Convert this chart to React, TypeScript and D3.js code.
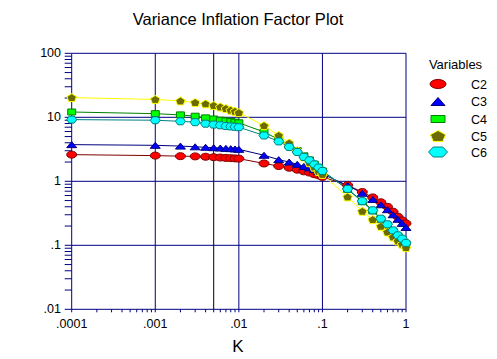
import React from "react";
import * as d3 from "d3";

const kValues = [
  0.0001, 0.001, 0.002, 0.003, 0.004, 0.005, 0.006, 0.007, 0.008, 0.009,
  0.01, 0.02, 0.03, 0.04, 0.05, 0.06, 0.07, 0.08, 0.09,
  0.1, 0.2, 0.3, 0.4, 0.5, 0.6, 0.7, 0.8, 0.9, 1.0,
];
const c2 = [2.61, 2.52, 2.47, 2.45, 2.42, 2.38, 2.35, 2.32, 2.3, 2.28, 2.26, 1.9, 1.73, 1.63, 1.52, 1.43, 1.37, 1.29, 1.24, 1.17, 0.87, 0.68, 0.56, 0.47, 0.4, 0.335, 0.28, 0.245, 0.22];
const c3 = [3.74, 3.65, 3.55, 3.46, 3.4, 3.35, 3.31, 3.27, 3.24, 3.2, 3.16, 2.55, 2.18, 2.0, 1.84, 1.71, 1.62, 1.52, 1.42, 1.3, 0.86, 0.65, 0.52, 0.43, 0.36, 0.3, 0.255, 0.22, 0.19];
const c4 = [12.1, 11.4, 10.9, 10.4, 9.8, 9.4, 9.0, 8.8, 8.6, 8.4, 8.2, 5.9, 4.5, 3.6, 3.0, 2.5, 2.15, 1.85, 1.65, 1.45, 0.75, 0.48, 0.345, 0.255, 0.207, 0.166, 0.139, 0.123, 0.106];
const c5 = [20.3, 19.0, 18.0, 17.0, 16.2, 15.3, 14.5, 13.7, 12.9, 12.4, 11.8, 7.4, 5.2, 3.96, 3.0, 2.4, 1.95, 1.66, 1.42, 1.28, 0.57, 0.34, 0.252, 0.198, 0.161, 0.135, 0.117, 0.104, 0.092];
const c6 = [9.2, 9.0, 8.66, 8.4, 7.95, 7.7, 7.5, 7.3, 7.2, 7.1, 7.0, 5.2, 4.2, 3.44, 2.87, 2.4, 2.13, 1.84, 1.64, 1.45, 0.76, 0.49, 0.352, 0.261, 0.213, 0.171, 0.143, 0.127, 0.109];

const seriesNames = ["C2", "C3", "C4", "C5", "C6"];
const seriesValues = [c2, c3, c4, c5, c6];
const shapes = ["ellipse", "triangle", "square", "pentagon", "hexagon"];
const fills = ["#ff0000", "#0000ff", "#00ff00", "#6b6b00", "#00ffff"];
const strokes = ["#800000", "#000080", "#008000", "#ffff00", "#008080"];
const lineColors = ["#800000", "#000080", "#008000", "#ffff00", "#008080"];

const xTickValues = [0.0001, 0.001, 0.01, 0.1, 1];
const xTickLabels = [".0001", ".001", ".01", ".1", "1"];
const yTickValues = [0.01, 0.1, 1, 10, 100];
const yTickLabels = [".01", ".1", "1", "10", "100"];
const refK = 0.005;

const FONT = "'Liberation Sans', Arial, sans-serif";

function markerPath(shape: string, w: number, h: number): string {
  const hw = w / 2, hh = h / 2;
  if (shape === "triangle") return `M0,${-hh}L${hw},${hh}L${-hw},${hh}Z`;
  if (shape === "square") return `M${-hw},${-hh}H${hw}V${hh}H${-hw}Z`;
  if (shape === "pentagon") {
    const pts = d3.range(5).map((i) => {
      const a = -Math.PI / 2 + (i * 2 * Math.PI) / 5;
      return [Math.cos(a) * hw, Math.sin(a) * hh * 1.1 + hh * 0.1];
    });
    return "M" + pts.map((p) => p.join(",")).join("L") + "Z";
  }
  if (shape === "hexagon") {
    const q = hw * 0.5;
    return `M${-hw},0L${-q},${-hh}L${q},${-hh}L${hw},0L${q},${hh}L${-q},${hh}Z`;
  }
  return "";
}

function Marker({ shape, x, y, w, h, fill, stroke }: any) {
  if (shape === "ellipse")
    return <ellipse cx={x} cy={y} rx={w / 2} ry={h / 2} fill={fill} stroke={stroke} strokeWidth={1} />;
  return <path d={markerPath(shape, w, h)} transform={`translate(${x},${y})`} fill={fill} stroke={stroke} strokeWidth={1} />;
}

export default function App() {
  const W = 497, H = 359;
  const x = d3.scaleLog().domain([0.0001, 1]).range([71.7, 406]);
  const y = d3.scaleLog().domain([0.01, 100]).range([309.3, 53.3]);

  const xMinor: number[] = [];
  const yMinor: number[] = [];
  for (let e = -4; e < 0; e++) for (let m = 2; m <= 9; m++) xMinor.push(m * Math.pow(10, e));
  for (let e = -2; e < 2; e++) for (let m = 2; m <= 9; m++) yMinor.push(m * Math.pow(10, e));

  const line = d3.line<number>().x((_, i) => x(kValues[i])).y((d) => y(d));

  const markerSize = [
    [10, 7], [10, 6], [8, 6], [10, 8], [10, 7],
  ];
  const legendSize = [
    [16, 9], [14, 8], [14, 7], [16, 11], [19, 10],
  ];
  const legendY = [84, 101.5, 119, 136, 152];

  return (
    <svg width={W} height={H} style={{ position: "absolute", left: 0, top: 0, background: "#fff" }}>
      <rect x={0} y={0} width={W} height={H} fill="#fff" />
      <text x={238} y={25} textAnchor="middle" fontFamily={FONT} fontSize={16.5} fill="#000">
        Variance Inflation Factor Plot
      </text>
      {xTickValues.map((v) => (
        <line key={"gx" + v} x1={x(v)} x2={x(v)} y1={y(100)} y2={y(0.01)} stroke="#000080" strokeWidth={1} />
      ))}
      {yTickValues.map((v) => (
        <line key={"gy" + v} x1={x(0.0001)} x2={x(1)} y1={y(v)} y2={y(v)} stroke="#000080" strokeWidth={1} />
      ))}
      <line x1={x(refK)} x2={x(refK)} y1={y(100)} y2={y(0.01)} stroke="#000" strokeWidth={1} />
      {xTickValues.concat(xMinor).map((v) => (
        <line key={"tx" + v} x1={x(v)} x2={x(v)} y1={y(0.01)} y2={y(0.01) + 3} stroke="#000080" strokeWidth={1} />
      ))}
      {yTickValues.concat(yMinor).map((v) => (
        <line key={"ty" + v} x1={x(0.0001) - 7} x2={x(0.0001)} y1={y(v)} y2={y(v)} stroke="#000080" strokeWidth={1} />
      ))}
      {xTickValues.map((v, i) => (
        <text key={"lx" + v} x={x(v)} y={328} textAnchor="middle" fontFamily={FONT} fontSize={12.5} fill="#000">
          {xTickLabels[i]}
        </text>
      ))}
      {yTickValues.map((v, i) => (
        <text key={"ly" + v} x={61} y={y(v) + 4} textAnchor="end" fontFamily={FONT} fontSize={12.5} fill="#000">
          {yTickLabels[i]}
        </text>
      ))}
      <text x={238} y={352} textAnchor="middle" fontFamily={FONT} fontSize={17} fill="#000">
        K
      </text>
      {seriesValues.map((vals, si) => (
        <path key={"line" + si} d={line(vals) || ""} fill="none" stroke={lineColors[si]} strokeWidth={1} />
      ))}
      {seriesValues.map((vals, si) => (
        <g key={"m" + si}>
          {vals.map((v, i) => (
            <Marker key={i} shape={shapes[si]} x={x(kValues[i])} y={y(v)} w={markerSize[si][0]} h={markerSize[si][1]} fill={fills[si]} stroke={strokes[si]} />
          ))}
        </g>
      ))}
      <text x={455.5} y={69} textAnchor="middle" fontFamily={FONT} fontSize={13} fill="#000">
        Variables
      </text>
      {seriesNames.map((n, si) => (
        <g key={"lg" + n}>
          <Marker shape={shapes[si]} x={438} y={legendY[si]} w={legendSize[si][0]} h={legendSize[si][1]} fill={fills[si]} stroke={strokes[si]} />
          <text x={471} y={legendY[si] + 4.5} fontFamily={FONT} fontSize={12.5} fill="#000">
            {n}
          </text>
        </g>
      ))}
    </svg>
  );
}
